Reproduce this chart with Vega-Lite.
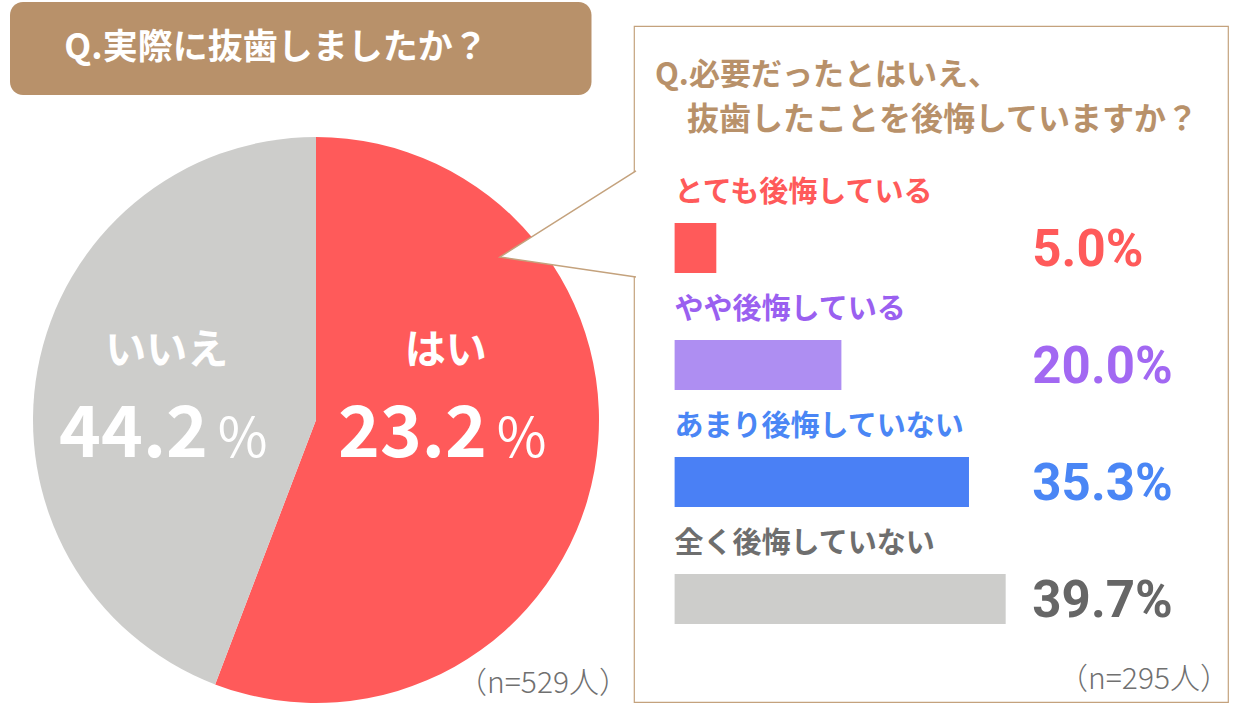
{
  "$schema": "https://vega.github.io/schema/vega-lite/v6.json",
  "background": "white",
  "padding": {"left": 10, "top": 2, "right": 0, "bottom": 0},
  "config": {
    "view": {"stroke": null},
    "font": "Noto Sans CJK JP"
  },
  "bounds": "flush",
  "center": true,
  "spacing": 12,
  "hconcat": [
    {
      "width": 612,
      "height": 724,
      "layer": [
        {
          "layer": [
            {
              "data": {"values": [{"q": "Q.実際に抜歯しましたか？"}]},
              "layer": [
                {
                  "mark": {"type": "rect", "fill": "#b8916a", "cornerRadius": 13},
                  "encoding": {
                    "x": {"datum": -1.0813, "type": "quantitative", "scale": {"domain": [-1.0813, 1.0813], "nice": false, "zero": false}, "axis": null},
                    "x2": {"datum": 0.9735},
                    "y": {"datum": 1.477, "type": "quantitative", "scale": {"domain": [-1.0813, 1.477], "nice": false, "zero": false}, "axis": null},
                    "y2": {"datum": 1.1484}
                  }
                },
                {
                  "mark": {"type": "text", "fontSize": 35, "fontWeight": "bold", "fill": "white", "align": "center", "baseline": "middle"},
                  "encoding": {
                    "x": {"datum": -0.1413, "type": "quantitative"},
                    "y": {"datum": 1.3145, "type": "quantitative"},
                    "text": {"field": "q"}
                  }
                }
              ]
            },
            {
              "data": {"values": [
                {"answer": "はい", "share": 55.8},
                {"answer": "いいえ", "share": 44.2}
              ]},
              "mark": {"type": "arc", "outerRadius": 283},
              "encoding": {
                "x": {"datum": 0, "type": "quantitative"},
                "y": {"datum": 0, "type": "quantitative"},
                "theta": {"field": "share", "type": "quantitative", "stack": true},
                "color": {"field": "answer", "type": "nominal", "scale": {"domain": ["はい", "いいえ"], "range": ["#ff5a5a", "#cdcdcb"]}, "legend": null},
                "order": {"field": "answer", "sort": "descending"}
              }
            }
          ]
        },
        {
          "data": {"values": [
            {"answer": "はい", "shown": "23.2"},
            {"answer": "いいえ", "shown": "44.2"}
          ]},
          "layer": [
            {
              "mark": {"type": "text", "fontSize": 41, "fontWeight": "bold", "fill": "white", "baseline": "middle", "dy": -12},
              "encoding": {
                "x": {"field": "answer", "type": "nominal", "scale": {"type": "point", "domain": ["いいえ", "はい"], "padding": 0.597, "align": 0.471}, "axis": null},
                "text": {"field": "answer"}
              }
            },
            {
              "mark": {"type": "text", "fontSize": 71, "fontWeight": "bold", "fill": "white", "align": "right", "baseline": "alphabetic", "dx": 41, "dy": 93},
              "encoding": {
                "x": {"field": "answer", "type": "nominal"},
                "text": {"field": "shown"}
              }
            },
            {
              "mark": {"type": "text", "fontSize": 54, "fill": "white", "align": "left", "baseline": "alphabetic", "dx": 51, "dy": 93},
              "encoding": {
                "x": {"field": "answer", "type": "nominal"},
                "text": {"value": "%"}
              }
            }
          ]
        },
        {
          "data": {"values": [{"n": "（n=529人）"}]},
          "mark": {"type": "text", "x": "width", "y": "height", "align": "right", "baseline": "alphabetic", "dx": 7, "dy": -33, "fontSize": 30, "fontWeight": 300, "fill": "#707070"},
          "encoding": {"text": {"field": "n"}}
        }
      ],
      "resolve": {"scale": {"x": "independent", "y": "independent"}}
    },
    {
      "width": 594,
      "height": 676,
      "view": {"stroke": "#c4a27d", "strokeWidth": 1.2},
      "layer": [
        {
          "layer": [
            {
              "data": {"values": [
                {"k": 1, "px": 1.1307, "py": 0.8799},
                {"k": 2, "px": 0.6502, "py": 0.576},
                {"k": 3, "px": 1.1307, "py": 0.5053}
              ]},
              "mark": {"type": "line", "fill": "white", "stroke": "#c4a27d", "strokeWidth": 1.5},
              "encoding": {
                "x": {"field": "px", "type": "quantitative", "scale": {"domain": [1.1237, 3.2226], "nice": false, "zero": false}, "axis": null},
                "y": {"field": "py", "type": "quantitative", "scale": {"domain": [-0.9965, 1.3922], "nice": false, "zero": false}, "axis": null},
                "order": {"field": "k"}
              }
            },
            {
              "data": {"values": [{"line": "Q.必要だったとはいえ、"}]},
              "mark": {"type": "text", "fontSize": 31, "fontWeight": "bold", "fill": "#b8916a", "align": "left", "baseline": "middle"},
              "encoding": {
                "x": {"datum": 1.1979, "type": "quantitative"},
                "y": {"datum": 1.2155, "type": "quantitative"},
                "text": {"field": "line"}
              }
            },
            {
              "data": {"values": [{"line": "抜歯したことを後悔していますか？"}]},
              "mark": {"type": "text", "fontSize": 32, "fontWeight": "bold", "fill": "#b8916a", "align": "left", "baseline": "middle"},
              "encoding": {
                "x": {"datum": 1.311, "type": "quantitative"},
                "y": {"datum": 1.0601, "type": "quantitative"},
                "text": {"field": "line"}
              }
            }
          ]
        },
        {
          "data": {"values": [
            {"cat": "とても後悔している", "pct": 5.0, "label": "5.0%"},
            {"cat": "やや後悔している", "pct": 20.0, "label": "20.0%"},
            {"cat": "あまり後悔していない", "pct": 35.3, "label": "35.3%"},
            {"cat": "全く後悔していない", "pct": 39.7, "label": "39.7%"}
          ]},
          "layer": [
            {
              "mark": {"type": "bar"},
              "encoding": {
                "x": {"field": "pct", "type": "quantitative", "scale": {"domain": [-4.87, 66.36], "nice": false}, "axis": null},
                "y": {"field": "cat", "type": "nominal", "sort": null, "scale": {"domain": ["とても後悔している", "やや後悔している", "あまり後悔していない", "全く後悔していない"], "range": [197, 598], "paddingInner": 0.5726, "paddingOuter": 0}, "axis": null},
                "color": {"field": "cat", "type": "nominal", "scale": {"domain": ["とても後悔している", "やや後悔している", "あまり後悔していない", "全く後悔していない"], "range": ["#ff5a5a", "#ae8ef2", "#4a80f5", "#cdcdcb"]}, "legend": null}
              }
            },
            {
              "mark": {"type": "text", "align": "left", "baseline": "middle", "dy": -55, "fontSize": 29, "fontWeight": "bold"},
              "encoding": {
                "x": {"datum": 0, "type": "quantitative"},
                "y": {"field": "cat", "type": "nominal", "sort": null},
                "text": {"field": "cat"},
                "color": {"field": "cat", "type": "nominal", "scale": {"domain": ["とても後悔している", "やや後悔している", "あまり後悔していない", "全く後悔していない"], "range": ["#ff5a5a", "#9a60f0", "#4a86f5", "#6e6e6e"]}, "legend": null}
              }
            },
            {
              "mark": {"type": "text", "align": "left", "baseline": "alphabetic", "dy": 18, "fontSize": 51, "fontWeight": "bold", "font": "Roboto"},
              "encoding": {
                "x": {"datum": 42.9, "type": "quantitative"},
                "y": {"field": "cat", "type": "nominal", "sort": null},
                "text": {"field": "label"},
                "color": {"field": "cat", "type": "nominal", "scale": {"domain": ["とても後悔している", "やや後悔している", "あまり後悔していない", "全く後悔していない"], "range": ["#ff5a5a", "#a268f2", "#4a86f5", "#666666"]}, "legend": null}
              }
            },
            {
              "data": {"values": [{"n": "（n=295人）"}]},
              "mark": {"type": "text", "x": "width", "y": "height", "align": "right", "baseline": "alphabetic", "dx": 2, "dy": -13, "fontSize": 30, "fontWeight": 300, "fill": "#707070"},
              "encoding": {"text": {"field": "n"}}
            }
          ],
          "resolve": {"scale": {"color": "independent"}}
        }
      ],
      "resolve": {"scale": {"x": "independent", "y": "independent"}}
    }
  ]
}
